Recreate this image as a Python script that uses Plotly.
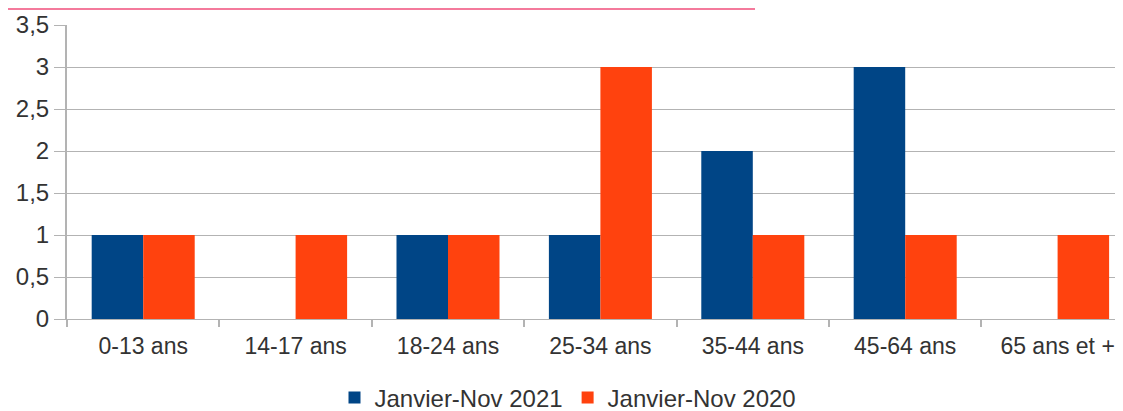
import plotly.graph_objects as go

categories = ["0-13 ans", "14-17 ans", "18-24 ans", "25-34 ans", "35-44 ans", "45-64 ans", "65 ans et +"]
series_2021 = [1, 0, 1, 1, 2, 3, 0]
series_2020 = [1, 1, 1, 3, 1, 1, 1]
name_2021 = "Janvier-Nov 2021"
name_2020 = "Janvier-Nov 2020"
y_ticks = [0, 0.5, 1, 1.5, 2, 2.5, 3, 3.5]

BLUE = "#004586"
ORANGE = "#ff420e"
GRID = "#b3b3b3"
TXT = "#333333"
FONT = "Liberation Sans, Arial, sans-serif"
FS = 23

# page body has an 8px margin: compensate so the plot lands where the reference has it
OFF = 8
W, H = 1123 - OFF, 411 - OFF
L, R, T = 67 - OFF, 0, 25 - OFF
B = H - T - 294
cat_px = 152.4
n_vis = (W - L - R) / cat_px

fig = go.Figure()
fig.add_trace(go.Bar(x=categories, y=series_2021, name=name_2021, marker=dict(color=BLUE, line=dict(width=0))))
fig.add_trace(go.Bar(x=categories, y=series_2020, name=name_2020, marker=dict(color=ORANGE, line=dict(width=0))))

fig.update_layout(
    width=W, height=H,
    margin=dict(l=L, r=R, t=T, b=B, pad=0),
    paper_bgcolor="white", plot_bgcolor="white",
    barmode="group", bargap=0.324, bargroupgap=0,
    separators=", ",
    font=dict(family=FONT, size=FS, color=TXT),
    legend=dict(orientation="h", xref="container", yref="container",
                x=(568 - OFF) / W, y=1 - (398 - OFF) / H, xanchor="center", yanchor="middle",
                font=dict(size=FS + 1, color=TXT), itemwidth=30,
                traceorder="normal"),
    xaxis=dict(range=[-0.5, -0.5 + n_vis], showgrid=False, showline=True,
               linecolor=GRID, linewidth=1, ticks="outside", tickson="boundaries",
               ticklen=7, tickcolor=GRID, tickwidth=2, fixedrange=True,
               ticklabelstandoff=6,
               tickfont=dict(size=FS, color=TXT)),
    yaxis=dict(range=[0, 3.5], tickvals=y_ticks, showgrid=True, gridcolor=GRID,
               gridwidth=1, showline=True, linecolor=GRID, linewidth=2,
               ticks="outside", ticklen=11, tickcolor=GRID, tickwidth=1,
               zeroline=False, tickfont=dict(size=FS + 1, color=TXT)),
)

y_line = 1 + (T - 1) / (H - T - B)
fig.add_shape(type="line", xref="paper", yref="paper",
              x0=-L / (W - L), x1=(755 - OFF - L) / (W - L), y0=y_line, y1=y_line,
              line=dict(color="#f47a9c", width=2))

fig.write_html("out.html")
